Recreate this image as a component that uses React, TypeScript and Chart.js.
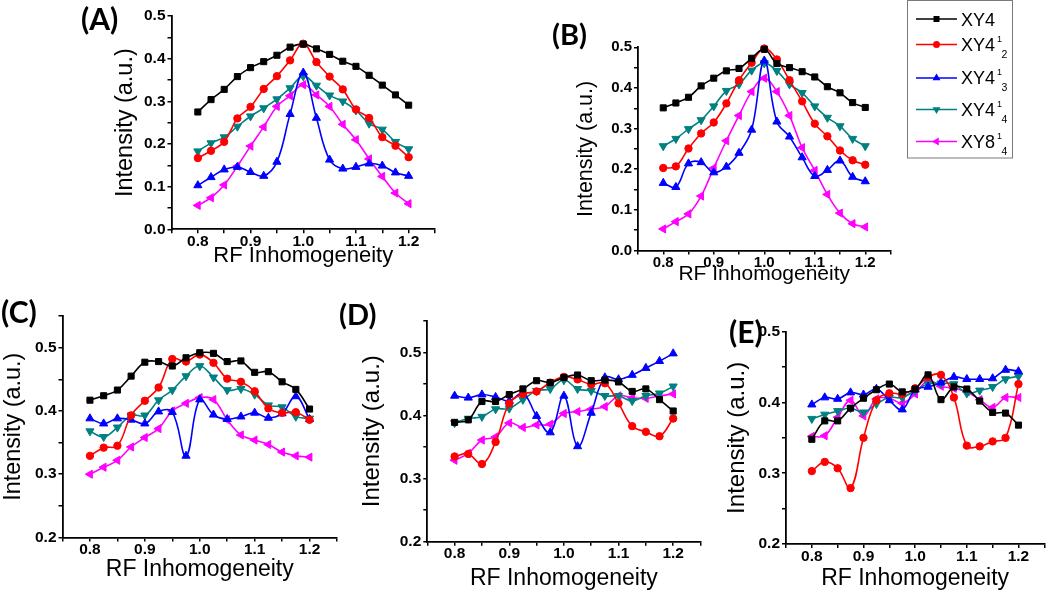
import React, { useEffect, useRef } from 'react';
import { Chart, registerables } from 'chart.js';

Chart.register(...registerables);

const FONT = '"Liberation Sans", Arial, Helvetica, sans-serif';
const LABEL_FONT = 'Lato, "Open Sans", sans-serif';

// ---------- data ----------
const xValues = [0.8, 0.825, 0.85, 0.875, 0.9, 0.925, 0.95, 0.975, 1.0, 1.025, 1.05, 1.075, 1.1, 1.125, 1.15, 1.175, 1.2];

const seriesNames = ['XY4', 'XY4\u00B9\u2082', 'XY4\u00B9\u2083', 'XY4\u00B9\u2084', 'XY8\u00B9\u2084'];

const xTitle = 'RF Inhomogeneity';
const yTitle = 'Intensity (a.u.)';

// Panel A
const aXY4 = [0.275, 0.304, 0.328, 0.358, 0.379, 0.393, 0.408, 0.427, 0.434, 0.423, 0.41, 0.394, 0.382, 0.361, 0.338, 0.315, 0.291];
const aXY4_2 = [0.167, 0.184, 0.205, 0.26, 0.287, 0.329, 0.359, 0.396, 0.435, 0.392, 0.358, 0.328, 0.281, 0.261, 0.216, 0.196, 0.169];
const aXY4_3 = [0.103, 0.122, 0.14, 0.146, 0.134, 0.125, 0.158, 0.27, 0.367, 0.261, 0.163, 0.142, 0.146, 0.154, 0.149, 0.133, 0.125];
const aXY4_4 = [0.183, 0.202, 0.216, 0.241, 0.265, 0.284, 0.305, 0.331, 0.359, 0.337, 0.314, 0.3, 0.279, 0.248, 0.234, 0.205, 0.188];
const aXY8_4 = [0.056, 0.074, 0.104, 0.148, 0.195, 0.24, 0.288, 0.313, 0.339, 0.315, 0.288, 0.246, 0.21, 0.165, 0.124, 0.085, 0.06];

// Panel B
const bXY4 = [0.351, 0.363, 0.377, 0.405, 0.424, 0.442, 0.448, 0.473, 0.495, 0.46, 0.45, 0.44, 0.427, 0.403, 0.388, 0.364, 0.352];
const bXY4_2 = [0.203, 0.207, 0.251, 0.288, 0.315, 0.362, 0.419, 0.462, 0.497, 0.47, 0.419, 0.367, 0.312, 0.281, 0.246, 0.222, 0.211];
const bXY4_3 = [0.166, 0.156, 0.214, 0.217, 0.192, 0.206, 0.24, 0.297, 0.467, 0.317, 0.28, 0.229, 0.183, 0.198, 0.221, 0.181, 0.17];
const bXY4_4 = [0.257, 0.275, 0.299, 0.321, 0.355, 0.393, 0.409, 0.443, 0.461, 0.442, 0.409, 0.388, 0.355, 0.327, 0.306, 0.275, 0.257];
const bXY8_4 = [0.053, 0.071, 0.09, 0.134, 0.203, 0.27, 0.332, 0.391, 0.424, 0.391, 0.332, 0.253, 0.197, 0.138, 0.092, 0.066, 0.058];

// Panel C
const cXY4 = [0.417, 0.424, 0.433, 0.455, 0.477, 0.478, 0.471, 0.484, 0.492, 0.491, 0.478, 0.479, 0.461, 0.462, 0.446, 0.434, 0.403];
const cXY4_2 = [0.329, 0.342, 0.345, 0.393, 0.416, 0.437, 0.482, 0.478, 0.489, 0.476, 0.451, 0.446, 0.431, 0.404, 0.397, 0.398, 0.386];
const cXY4_3 = [0.388, 0.38, 0.388, 0.386, 0.38, 0.399, 0.398, 0.329, 0.418, 0.394, 0.387, 0.391, 0.397, 0.389, 0.396, 0.423, 0.387];
const cXY4_4 = [0.368, 0.359, 0.374, 0.393, 0.393, 0.417, 0.433, 0.455, 0.471, 0.453, 0.433, 0.435, 0.426, 0.409, 0.406, 0.391, 0.388];
const cXY8_4 = [0.3, 0.311, 0.322, 0.343, 0.358, 0.372, 0.4, 0.412, 0.421, 0.418, 0.386, 0.362, 0.354, 0.347, 0.335, 0.329, 0.327];

// Panel D
const dXY4 = [0.389, 0.393, 0.422, 0.422, 0.433, 0.442, 0.455, 0.452, 0.46, 0.464, 0.455, 0.456, 0.453, 0.438, 0.442, 0.425, 0.407];
const dXY4_2 = [0.335, 0.339, 0.323, 0.358, 0.419, 0.434, 0.438, 0.452, 0.461, 0.457, 0.449, 0.451, 0.419, 0.383, 0.374, 0.367, 0.395];
const dXY4_3 = [0.431, 0.428, 0.433, 0.429, 0.423, 0.435, 0.399, 0.373, 0.431, 0.351, 0.404, 0.46, 0.457, 0.464, 0.475, 0.486, 0.498];
const dXY4_4 = [0.388, 0.395, 0.398, 0.41, 0.411, 0.425, 0.439, 0.442, 0.456, 0.442, 0.439, 0.431, 0.431, 0.423, 0.431, 0.435, 0.446];
const dXY8_4 = [0.329, 0.34, 0.361, 0.366, 0.388, 0.381, 0.385, 0.386, 0.403, 0.406, 0.41, 0.414, 0.431, 0.428, 0.427, 0.431, 0.434];

// Panel E
const eXY4 = [0.348, 0.374, 0.374, 0.392, 0.406, 0.418, 0.426, 0.415, 0.419, 0.439, 0.404, 0.422, 0.419, 0.402, 0.386, 0.385, 0.368];
const eXY4_2 = [0.303, 0.316, 0.307, 0.279, 0.35, 0.403, 0.413, 0.412, 0.42, 0.436, 0.439, 0.407, 0.339, 0.338, 0.345, 0.35, 0.426];
const eXY4_3 = [0.397, 0.407, 0.405, 0.414, 0.411, 0.419, 0.403, 0.39, 0.418, 0.422, 0.428, 0.436, 0.433, 0.433, 0.434, 0.446, 0.444];
const eXY4_4 = [0.377, 0.383, 0.388, 0.392, 0.386, 0.398, 0.407, 0.407, 0.417, 0.426, 0.427, 0.426, 0.413, 0.417, 0.422, 0.433, 0.437];
const eXY8_4 = [0.352, 0.353, 0.379, 0.403, 0.381, 0.405, 0.406, 0.399, 0.412, 0.431, 0.423, 0.42, 0.415, 0.404, 0.393, 0.407, 0.407];

// ---------- styles ----------
const STYLES = [
  { color: '#000000', pointStyle: 'rect', rotation: 0, radius: 4.3 },
  { color: '#ff0000', pointStyle: 'circle', rotation: 0, radius: 3.7 },
  { color: '#0000ff', pointStyle: 'triangle', rotation: 0, radius: 4.7 },
  { color: '#008080', pointStyle: 'triangle', rotation: 180, radius: 4.7 },
  { color: '#ff00ff', pointStyle: 'triangle', rotation: -90, radius: 4.7 },
];

type PanelCfg = {
  key: string;
  series: number[][];
  yMin: number;
  yMax: number;
  area: { l: number; r: number; t: number; b: number };
  canvas: { l: number; t: number; r: number; b: number };
  yTitleX: number;
  yTitleSize: number;
  xTitleBaseline: number;
  xTitleSize: number;
  tickSize: number;
};

const PANELS: PanelCfg[] = [
  {
    key: 'A', series: [aXY4, aXY4_2, aXY4_3, aXY4_4, aXY8_4], yMin: 0, yMax: 0.5,
    area: { l: 171.5, r: 435, t: 16, b: 229.3 }, canvas: { l: 100, t: 0, r: 445, b: 270 },
    yTitleX: 125.7, yTitleSize: 23.5, xTitleBaseline: 263.5, xTitleSize: 22, tickSize: 15.5,
  },
  {
    key: 'B', series: [bXY4, bXY4_2, bXY4_3, bXY4_4, bXY8_4], yMin: 0, yMax: 0.5,
    area: { l: 638, r: 890.5, t: 47.3, b: 250.5 }, canvas: { l: 565, t: 30, r: 900, b: 289 },
    yTitleX: 586.2, yTitleSize: 21.5, xTitleBaseline: 281.3, xTitleSize: 21, tickSize: 15,
  },
  {
    key: 'C', series: [cXY4, cXY4_2, cXY4_3, cXY4_4, cXY8_4], yMin: 0.2, yMax: 0.55,
    area: { l: 62.5, r: 337, t: 316, b: 537.5 }, canvas: { l: -5, t: 300, r: 347, b: 585 },
    yTitleX: 13.3, yTitleSize: 23.4, xTitleBaseline: 578, xTitleSize: 23, tickSize: 15.5,
  },
  {
    key: 'D', series: [dXY4, dXY4_2, dXY4_3, dXY4_4, dXY8_4], yMin: 0.2, yMax: 0.55,
    area: { l: 427.3, r: 700.5, t: 320.7, b: 541.7 }, canvas: { l: 350, t: 305, r: 712, b: 592 },
    yTitleX: 372.5, yTitleSize: 24, xTitleBaseline: 586.5, xTitleSize: 23, tickSize: 15.5,
  },
  {
    key: 'E', series: [eXY4, eXY4_2, eXY4_3, eXY4_4, eXY8_4], yMin: 0.2, yMax: 0.5,
    area: { l: 786, r: 1048, t: 331.7, b: 544 }, canvas: { l: 715, t: 315, r: 1050, b: 592 },
    yTitleX: 737.5, yTitleSize: 24, xTitleBaseline: 586.5, xTitleSize: 23, tickSize: 15.5,
  },
];

const tickLabel = (v: number | string) => {
  const k = Math.round(Number(v) * 100);
  return k % 10 === 0 ? (k / 100).toFixed(1) : '';
};

function Panel({ cfg }: { cfg: PanelCfg }) {
  const ref = useRef<HTMLCanvasElement>(null);
  const W = cfg.canvas.r - cfg.canvas.l;
  const H = cfg.canvas.b - cfg.canvas.t;

  useEffect(() => {
    const canvas = ref.current;
    if (!canvas) return;
    const Wy = cfg.area.l - cfg.canvas.l;
    const padTop = cfg.area.t - cfg.canvas.t;
    const padRight = cfg.canvas.r - cfg.area.r;
    const Hx = cfg.canvas.b - cfg.area.b;
    const yTitlePad = cfg.yTitleX - cfg.canvas.l - (cfg.yTitleSize * 1.2) / 2;
    const xTitlePad = cfg.canvas.b - (cfg.xTitleBaseline - 0.3465 * cfg.xTitleSize) - (cfg.xTitleSize * 1.2) / 2;
    const tickFont = { family: FONT, size: cfg.tickSize, weight: 'bold' as const };

    const chart = new Chart(canvas, {
      type: 'line',
      data: {
        datasets: cfg.series.map((vals, i) => ({
          label: seriesNames[i],
          data: xValues.map((x, j) => ({ x, y: vals[j] })),
          borderColor: STYLES[i].color,
          backgroundColor: STYLES[i].color,
          borderWidth: 1.6,
          pointStyle: STYLES[i].pointStyle as any,
          pointRotation: STYLES[i].rotation,
          pointRadius: STYLES[i].radius,
          pointBorderWidth: 1,
          pointBackgroundColor: STYLES[i].color,
          pointBorderColor: STYLES[i].color,
          tension: 0.4,
          fill: false,
          clip: false as any,
        })),
      },
      options: {
        responsive: false,
        animation: false,
        devicePixelRatio: 1,
        events: [],
        layout: { padding: { left: 0, top: padTop, right: padRight, bottom: 0 } },
        plugins: { legend: { display: false }, tooltip: { enabled: false } },
        scales: {
          x: {
            type: 'linear',
            min: 0.75,
            max: 1.25,
            afterFit: (s: any) => { s.height = Hx; },
            ticks: {
              stepSize: 0.05, autoSkip: false, maxRotation: 0, minRotation: 0,
              padding: -1, color: '#000', font: tickFont, callback: tickLabel,
            },
            grid: { display: true, drawOnChartArea: false, drawTicks: true, tickLength: 4, color: '#000', lineWidth: 1.5 },
            border: { display: true, color: '#000', width: 1.8 },
            title: {
              display: true, text: xTitle, color: '#000',
              font: { family: FONT, size: cfg.xTitleSize, weight: 'normal' },
              padding: { top: 0, bottom: xTitlePad },
            },
          },
          y: {
            type: 'linear',
            min: cfg.yMin,
            max: cfg.yMax,
            afterFit: (s: any) => { s.width = Wy; },
            ticks: {
              stepSize: 0.05, autoSkip: false, padding: 2, color: '#000', font: tickFont, callback: tickLabel,
            },
            grid: { display: true, drawOnChartArea: false, drawTicks: true, tickLength: 4, color: '#000', lineWidth: 1.5 },
            border: { display: true, color: '#000', width: 1.8 },
            title: {
              display: true, text: yTitle, color: '#000',
              font: { family: FONT, size: cfg.yTitleSize, weight: 'normal' },
              padding: { top: yTitlePad, bottom: 0 },
            },
          },
        },
      },
    } as any);
    return () => chart.destroy();
  }, []);

  return (
    <canvas
      ref={ref}
      width={W}
      height={H}
      style={{ position: 'absolute', left: cfg.canvas.l, top: cfg.canvas.t, width: W, height: H }}
    />
  );
}

// ---------- legend & panel labels (layout) ----------
const LEGEND_ROWS = [
  { y: 19, textBase: 26, sup: null as null | { t: string; base: number }, sub: null as null | { t: string; base: number }, mainText: 'XY4' },
  { y: 44.5, textBase: 50.7, sup: { t: '1', base: 42 }, sub: { t: '2', base: 58.3 }, mainText: 'XY4' },
  { y: 78, textBase: 84, sup: { t: '1', base: 75.3 }, sub: { t: '3', base: 90.7 }, mainText: 'XY4' },
  { y: 109.5, textBase: 116, sup: { t: '1', base: 107.3 }, sub: { t: '4', base: 122.7 }, mainText: 'XY4' },
  { y: 141.5, textBase: 147.5, sup: { t: '1', base: 139.3 }, sub: { t: '4', base: 155 }, mainText: 'XY8' },
];

const PANEL_LABELS = [
  { t: '(A)', x: 81, base: 29.5, size: 30 },
  { t: '(B)', x: 552, base: 45, size: 29 },
  { t: '(C)', x: 1, base: 323, size: 30 },
  { t: '(D)', x: 339, base: 325, size: 29 },
  { t: '(E)', x: 729, base: 343, size: 30 },
];

function Marker({ i, cx, cy }: { i: number; cx: number; cy: number }) {
  const c = STYLES[i].color;
  if (i === 0) return <rect x={cx - 3} y={cy - 3} width={6} height={6} fill={c} />;
  if (i === 1) return <circle cx={cx} cy={cy} r={3.5} fill={c} />;
  const r = 4.6;
  let pts: number[][];
  if (i === 2) pts = [[cx, cy - r], [cx + 0.866 * r, cy + 0.5 * r], [cx - 0.866 * r, cy + 0.5 * r]];
  else if (i === 3) pts = [[cx, cy + r], [cx + 0.866 * r, cy - 0.5 * r], [cx - 0.866 * r, cy - 0.5 * r]];
  else pts = [[cx - r, cy], [cx + 0.5 * r, cy - 0.866 * r], [cx + 0.5 * r, cy + 0.866 * r]];
  return <polygon points={pts.map((p) => p.join(',')).join(' ')} fill={c} />;
}

function Overlay() {
  return (
    <svg width={1050} height={592} style={{ position: 'absolute', left: 0, top: 0, pointerEvents: 'none' }}>
      {PANEL_LABELS.map((p) => (
        <text key={p.t} x={p.x} y={p.base} fontFamily={LABEL_FONT} fontWeight="bold" fontSize={p.size} fill="#000">
          {p.t}
        </text>
      ))}
      <rect x={907.5} y={0.5} width={105} height={157.5} fill="#fff" stroke="#7a7a7a" strokeWidth={1} />
      {LEGEND_ROWS.map((row, i) => (
        <g key={i}>
          <line x1={916} x2={957} y1={row.y} y2={row.y} stroke={STYLES[i].color} strokeWidth={1.5} />
          <Marker i={i} cx={936.5} cy={row.y} />
          <text x={961} y={row.textBase} fontFamily={FONT} fontSize={18} fill="#000">{row.mainText}</text>
          {row.sup && (
            <text x={997} y={row.sup.base} fontFamily={FONT} fontSize={9} fill="#000">{row.sup.t}</text>
          )}
          {row.sub && (
            <text x={1001.5} y={row.sub.base} fontFamily={FONT} fontSize={10.5} fill="#000">{row.sub.t}</text>
          )}
        </g>
      ))}
    </svg>
  );
}

export default function App() {
  return (
    <div style={{ position: 'absolute', left: 0, top: 0, width: 1050, height: 592, overflow: 'hidden', background: '#fff' }}>
      {PANELS.map((p) => (
        <Panel key={p.key} cfg={p} />
      ))}
      <Overlay />
    </div>
  );
}
